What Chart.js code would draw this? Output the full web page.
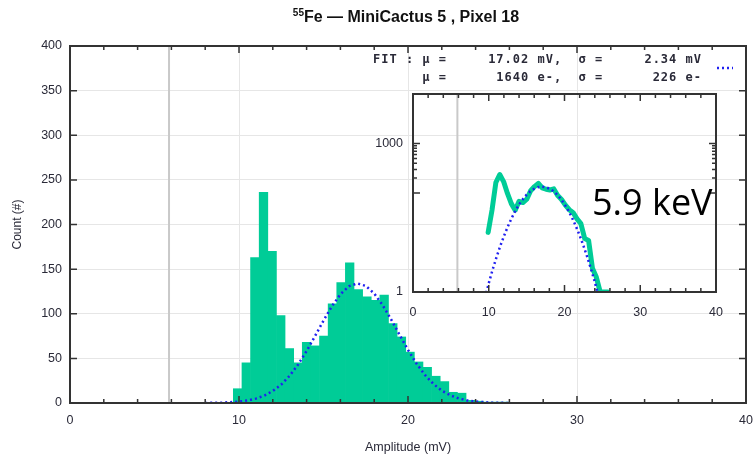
<!DOCTYPE html>
<html>
<head>
<meta charset="utf-8">
<script src="https://cdn.jsdelivr.net/npm/chart.js@4.4.1/dist/chart.umd.min.js"></script>
<style>
  html, body { margin: 0; padding: 0; background: #fff; }
  #wrap  { position: relative; width: 756px; height: 459px; overflow: hidden; }
  #main  { position: absolute; left: 0; top: 0; }
  #inset { position: absolute; left: 360px; top: 85px; }
  #kev   { position: absolute; left: 592px; top: 184px; font: 36px "Open Sans", sans-serif;
           line-height: 1; color: #000; white-space: nowrap; }
</style>
</head>
<body>
<div id="wrap">
  <canvas id="main" width="756" height="459"></canvas>
  <canvas id="inset" width="370" height="240"></canvas>
  <div id="kev">5.9 keV</div>
</div>
<script>
// ── data ──
const binCenters = [9.92, 10.43, 10.94, 11.45, 11.96, 12.47, 12.98, 13.49, 14.00, 14.51,
                    15.02, 15.53, 16.04, 16.55, 17.06, 17.57, 18.08, 18.59, 19.10, 19.61,
                    20.12, 20.63, 21.14, 21.65, 22.16, 22.67, 23.18, 23.69, 24.20, 24.71,
                    25.22, 25.73];
const counts     = [16, 45, 163, 236, 170, 98, 61, 45, 68, 64,
                    75, 111, 135, 157, 127, 119, 115, 121, 89, 74,
                    57, 46, 40, 30, 24, 12, 11, 3, 2, 1,
                    1, 1];

const fitX = [8, 9, 10, 10.5, 11, 11.5, 12, 12.5, 13, 13.5, 14, 14.5, 15, 15.5, 16, 16.5, 17,
              17.5, 18, 18.5, 19, 19.5, 20, 20.5, 21, 21.5, 22, 22.5, 23, 23.5, 24, 25, 26];
const fitY = [0.08, 0.38, 1.5, 2.8, 4.9, 8.3, 13.4, 20.7, 30.6, 43.2, 58.3, 75, 92.3, 108.5, 121.8, 130.8, 134,
              131.2, 122.7, 109.7, 93.7, 76.4, 59.5, 44.3, 31.5, 21.4, 13.9, 8.6, 5.1, 2.9, 1.6, 0.4, 0.08];

const refLineX = 5.86;

const xMajor = [0, 10, 20, 30, 40];
const xMinor = [2, 4, 6, 8, 12, 14, 16, 18, 22, 24, 26, 28, 32, 34, 36, 38];
const yMajor = [50, 100, 150, 200, 250, 300, 350];

const insetYMajor  = [100, 1000];
const insetYMinor  = [200, 300, 400, 500, 600, 700, 800, 900];
const insetYLabels = [1, 1000];

const titleSup  = "55";
const titleMain = "Fe \u2014 MiniCactus 5 , Pixel 18";
const fitLine1  = "FIT : \u03bc =     17.02 mV,  \u03c3 =     2.34 mV";
const fitLine2  = "      \u03bc =      1640 e-,  \u03c3 =      226 e-";

// ── styles ──
const GREEN    = "#00cc97";
const FIT_BLUE = "#2020f0";
const REF_GREY = "#c9c9c9";
const INK      = "#2a2a38";
const GRID     = "#e6e6e6";

Chart.defaults.font.family = "'Liberation Sans', Arial, sans-serif";
Chart.defaults.color = INK;

const pts = (xs, ys) => xs.map((x, i) => ({ x, y: ys[i] }));

// keep the plot box where it is, whatever the tick labels want
const fixW = w => s => { s.width = w; s.paddingTop = 0; s.paddingBottom = 0; };
const fixH = h => s => { s.height = h; s.paddingLeft = 0; s.paddingRight = 0; };

// inward ticks on all four sides + frame box
function makeFrame(id, cfg) {
  return {
    id,
    afterDatasetsDraw(chart) {
      const { ctx, chartArea: a } = chart;
      const sx = chart.scales.x, sy = chart.scales.y;
      ctx.save();
      ctx.strokeStyle = "#333";
      ctx.lineWidth = 1.5;
      ctx.beginPath();
      const xt = (vals, len) => vals.forEach(v => {
        const p = sx.getPixelForValue(v);
        ctx.moveTo(p, a.bottom); ctx.lineTo(p, a.bottom - len);
        ctx.moveTo(p, a.top);    ctx.lineTo(p, a.top + len);
      });
      const yt = (vals, len) => vals.forEach(v => {
        const p = sy.getPixelForValue(v);
        ctx.moveTo(a.left, p);  ctx.lineTo(a.left + len, p);
        ctx.moveTo(a.right, p); ctx.lineTo(a.right - len, p);
      });
      xt(cfg.xMajor, cfg.major); xt(cfg.xMinor, cfg.minor);
      yt(cfg.yMajor, cfg.major); yt(cfg.yMinor, cfg.minor);
      ctx.stroke();
      ctx.lineWidth = 2;
      ctx.strokeRect(a.left, a.top, a.right - a.left, a.bottom - a.top);
      ctx.restore();
    }
  };
}

// title, fit text, key sample
const mainText = {
  id: "mainText",
  afterDraw(chart) {
    const ctx = chart.ctx;
    ctx.save();
    ctx.fillStyle = "#111";
    ctx.textBaseline = "alphabetic";
    const big   = "bold 16px 'Liberation Sans Narrow', 'Liberation Sans', sans-serif";
    const small = "bold 10px 'Liberation Sans Narrow', 'Liberation Sans', sans-serif";
    ctx.font = small; const w1 = ctx.measureText(titleSup).width;
    ctx.font = big;   const w2 = ctx.measureText(titleMain).width;
    const x0 = 406 - (w1 + w2) / 2;
    ctx.font = small; ctx.fillText(titleSup, x0, 16);
    ctx.font = big;   ctx.fillText(titleMain, x0 + w1, 22);

    ctx.fillStyle = INK;
    ctx.font = "bold 12px 'DejaVu Sans Mono', monospace";
    ctx.letterSpacing = "1px";
    ctx.textBaseline = "middle";
    ctx.fillText(fitLine1, 373, 60);
    ctx.fillText(fitLine2, 373, 78);
    ctx.letterSpacing = "0px";

    ctx.strokeStyle = FIT_BLUE;
    ctx.lineWidth = 2.5;
    ctx.setLineDash([2, 3]);
    ctx.beginPath(); ctx.moveTo(717, 68); ctx.lineTo(733, 68); ctx.stroke();
    ctx.restore();
  }
};

// ── main histogram ──
new Chart(document.getElementById("main"), {
  type: "bar",
  data: {
    datasets: [
      { type: "line", label: "fit", data: pts(fitX, fitY), borderColor: FIT_BLUE, borderWidth: 2.5,
        borderDash: [2, 3], pointRadius: 0, tension: 0, order: 0 },
      { type: "bar", label: "counts", data: pts(binCenters, counts), backgroundColor: GREEN,
        borderWidth: 0, barPercentage: 1, categoryPercentage: 1, order: 1 },
      { type: "line", label: "ref", data: [{ x: refLineX, y: 0 }, { x: refLineX, y: 400 }],
        borderColor: REF_GREY, borderWidth: 2, pointRadius: 0, order: 2 }
    ]
  },
  options: {
    responsive: false,
    animation: false,
    layout: { padding: { top: 46, right: 10, left: 0, bottom: 0 } },
    plugins: { legend: { display: false }, tooltip: { enabled: false } },
    scales: {
      x: {
        type: "linear", min: 0, max: 40, offset: false,
        grid: { color: GRID, drawTicks: false, offset: false },
        border: { display: false },
        ticks: { stepSize: 10, padding: 10, font: { size: 12.5 } },
        title: { display: true, text: "Amplitude (mV)", font: { size: 12.5 }, padding: { bottom: 4, top: 0 } },
        afterFit: fixH(56)
      },
      y: {
        min: 0, max: 400,
        grid: { color: GRID, drawTicks: false },
        border: { display: false },
        ticks: { stepSize: 50, padding: 8, font: { size: 12.5 } },
        title: { display: true, text: "Count (#)", font: { size: 12 }, padding: { top: 10, bottom: 0 } },
        afterFit: fixW(70)
      }
    }
  },
  plugins: [makeFrame("mainFrame", { xMajor, xMinor, yMajor, yMinor: [], major: 7, minor: 4 }), mainText]
});

// ── inset, log scale ──
new Chart(document.getElementById("inset"), {
  type: "line",
  data: {
    datasets: [
      { label: "fit", data: pts(fitX, fitY), borderColor: FIT_BLUE, borderWidth: 2.5,
        borderDash: [2, 3], pointRadius: 0, tension: 0, order: 0 },
      { label: "counts", data: pts(binCenters, counts), borderColor: GREEN, borderWidth: 5,
        borderJoinStyle: "round", borderCapStyle: "round", pointRadius: 0, tension: 0, order: 1 },
      { label: "ref", data: [{ x: refLineX, y: 1 }, { x: refLineX, y: 10000 }],
        borderColor: REF_GREY, borderWidth: 2, pointRadius: 0, order: 2 }
    ]
  },
  options: {
    responsive: false,
    animation: false,
    layout: { padding: { top: 9, right: 14, left: 0, bottom: 0 } },
    plugins: { legend: { display: false }, tooltip: { enabled: false } },
    scales: {
      x: {
        type: "linear", min: 0, max: 40,
        grid: { display: false, drawTicks: false },
        border: { display: false },
        ticks: { stepSize: 10, padding: 13, font: { size: 12.5 } },
        afterFit: fixH(33)
      },
      y: {
        type: "logarithmic", min: 1, max: 10000,
        grid: { display: false, drawTicks: false },
        border: { display: false },
        afterBuildTicks: s => { s.ticks = insetYLabels.map(v => ({ value: v })); },
        ticks: { padding: 10, autoSkip: false, font: { size: 12.5 }, callback: v => String(v) },
        afterFit: fixW(53)
      }
    }
  },
  plugins: [makeFrame("insetFrame", { xMajor, xMinor, yMajor: insetYMajor, yMinor: insetYMinor, major: 7, minor: 4 })]
});
</script>
</body>
</html>
